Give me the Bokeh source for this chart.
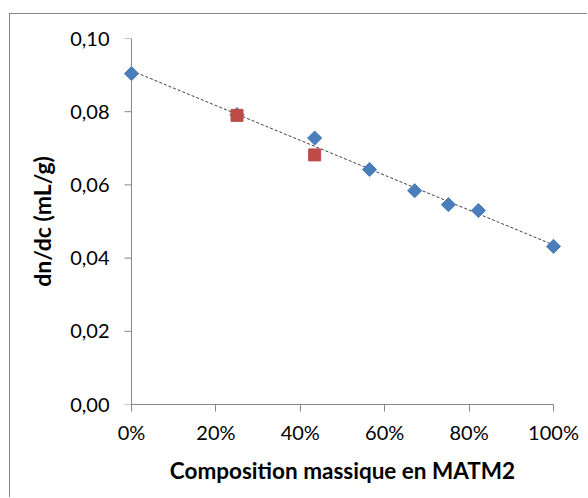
import numpy as np
from bokeh.plotting import figure
from bokeh.models import Range1d, FixedTicker
from bokeh.embed import file_html
from bokeh.resources import INLINE

# Data (mass fraction of MATM2, dn/dc in mL/g)
blue_x = [0.0, 0.25, 0.434, 0.564, 0.671, 0.751, 0.822, 1.0]
blue_y = [0.0904, 0.0792, 0.0728, 0.0642, 0.0584, 0.0546, 0.0530, 0.0432]
red_x = [0.25, 0.434]
red_y = [0.0790, 0.0682]

x_ticks = [0.0, 0.2, 0.4, 0.6, 0.8, 1.0]
x_tick_labels = ["0%", "20%", "40%", "60%", "80%", "100%"]
y_ticks = [0.0, 0.02, 0.04, 0.06, 0.08, 0.10]
y_tick_labels = ["0,00", "0,02", "0,04", "0,06", "0,08", "0,10"]

FONT = "Lato"
AXIS_COLOR = "#868686"

pad = 10 / 422
p = figure(width=578, height=484, output_backend="svg", toolbar_location=None,
           x_range=Range1d(-pad, 1 + pad), y_range=Range1d(0, 0.1))
p.styles = {"margin-left": "9px", "margin-top": "13px",
            "border-left": "1px solid #868686", "border-top": "1px solid #868686"}
p.min_border_left = 111
p.min_border_right = 25
p.min_border_top = 24
p.min_border_bottom = 94
p.outline_line_color = None
p.grid.visible = False
p.background_fill_color = "white"
p.border_fill_color = "white"

xa = p.xaxis[0]
ya = p.yaxis[0]
xa.ticker = FixedTicker(ticks=x_ticks)
xa.major_label_overrides = {t: l for t, l in zip(x_ticks, x_tick_labels)}
xa.bounds = (0, 1)
ya.ticker = FixedTicker(ticks=y_ticks)
ya.major_label_overrides = {t: l for t, l in zip(y_ticks, y_tick_labels)}
for ax in (xa, ya):
    ax.axis_line_color = AXIS_COLOR
    ax.major_tick_line_color = AXIS_COLOR
    ax.major_tick_out = 7
    ax.major_tick_in = 0
    ax.minor_tick_line_color = None
    ax.major_label_text_font = FONT
    ax.major_label_text_font_size = "20px"
    ax.major_label_text_color = "#000000"
    ax.axis_label_text_font = FONT
    ax.axis_label_text_font_style = "bold"
    ax.axis_label_text_color = "#000000"
xa.axis_label = "Composition massique en MATM2"
ya.axis_label = "dn/dc (mL/g)"
xa.axis_label_text_font_size = "22.5px"
ya.axis_label_text_font_size = "23px"
xa.major_label_standoff = 8
xa.axis_label_standoff = 10
# labels-only y axis at the frame edge; its line and ticks are drawn at x = 0
ya.axis_line_color = None
ya.major_tick_line_color = None
ya.major_tick_out = 0
ya.major_label_standoff = 12
ya.axis_label_standoff = 11

# y axis line at x = 0 and its outside ticks (7 px)
p.segment(x0=[0.0], y0=[y_ticks[0]], x1=[0.0], y1=[y_ticks[-1]],
          line_color=AXIS_COLOR, line_width=1)
p.ray(x=[0.0] * len(y_ticks), y=y_ticks, length=7, length_units="screen",
      angle=np.pi, line_color=AXIS_COLOR, line_width=1)

# linear trend line of the blue series
coef = np.polyfit(blue_x, blue_y, 1)
tx = [0.0, 1.0]
ty = list(np.polyval(coef, tx))
p.line(tx, ty, line_color="#404040", line_width=1, line_dash="3 2")

# markers
p.scatter(blue_x, blue_y, marker="square", size=10, angle=np.pi / 4,
          fill_color="#4A7EBB", line_color="#4A7EBB")
p.scatter(red_x, red_y, marker="square", size=12,
          fill_color="#BE4B48", line_color="#BE4B48")

open("out.html", "w").write(file_html(p, INLINE))
